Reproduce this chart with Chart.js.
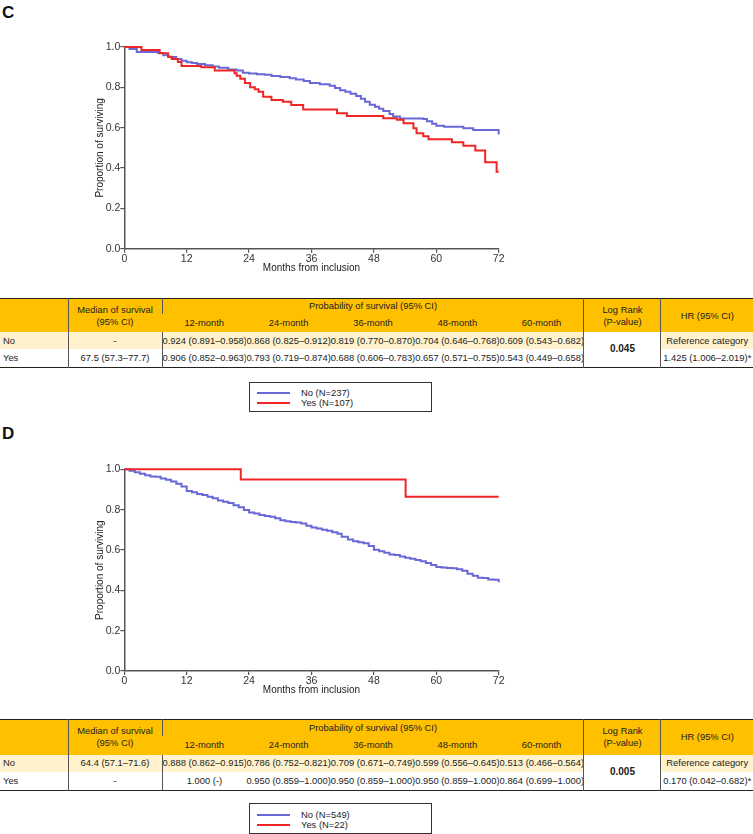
<!DOCTYPE html>
<html><head><meta charset="utf-8">
<script src="https://cdn.jsdelivr.net/npm/chart.js@4/dist/chart.umd.min.js"></script>
<style>
html,body{margin:0;padding:0;background:#fff;}
#page{position:relative;width:753px;height:834px;overflow:hidden;font-family:"Liberation Sans",Arial,sans-serif;}
.panel{position:absolute;left:2px;font-weight:bold;font-size:17px;color:#111;line-height:17px;}
canvas.cv{position:absolute;left:0;}
table.t{position:absolute;left:0;width:753px;border-collapse:collapse;table-layout:fixed;
  font-family:"Liberation Sans",Arial,sans-serif;font-size:9.4px;color:#222;
  border-top:1.5px solid #222;border-bottom:1.5px solid #222;}
table.t td{padding:0;line-height:12px;text-align:center;vertical-align:middle;white-space:nowrap;overflow:hidden;}
table.t tr.h td{background:#FFC000;}
table.t tr.no td{background:#FFF2CC;}
table.t tr.no td.lr{background:#fff;font-weight:bold;font-size:10px;}
table.t td.vl{border-left:1px solid #555;}
table.t td.lab{text-align:left;padding-left:3px;}
.legend{position:absolute;left:249px;width:181px;border:1px solid #333;background:#fff;
  font-family:"Liberation Sans",Arial,sans-serif;font-size:9.4px;color:#222;}
.legend .it{position:absolute;left:0;height:12px;line-height:12px;}
.legend .sw{position:absolute;left:7px;width:33px;top:5px;height:0;border-top:2px solid;}
.legend .tx{position:absolute;left:51px;top:0;white-space:nowrap;}
</style>
</head>
<body>
<div id="page">
  <div class="panel" style="top:4px;">C</div>
  <canvas id="chartC" class="cv" width="540" height="260" style="top:25px;"></canvas>
  <table class="t" id="tableC" style="top:298px;"></table>
  <div class="legend" id="legendC" style="top:382px;height:28px;"></div>

  <div class="panel" style="top:425px;">D</div>
  <canvas id="chartD" class="cv" width="540" height="260" style="top:447px;"></canvas>
  <table class="t" id="tableD" style="top:719px;"></table>
  <div class="legend" id="legendD" style="top:803px;height:29px;"></div>
</div>
<script>
// ---------- Data ----------
const xTickStep = 12;
const xMax = 72;
const seriesNames = ["No", "Yes"];

// Panel C – Kaplan–Meier steps (months, survival)
const cMonthsNo = [0, 1, 2.4, 6.5, 7.5, 8.5, 10, 11, 12, 13, 14, 15.5, 17, 18.2, 20, 21.6, 22.8, 24, 25.5, 27, 28.3, 30, 31.8, 33, 34.5, 35.7, 37.6, 39.5, 40.5, 41.5, 42.5, 43.5, 44.6, 45.5, 46.3, 47.2, 48.2, 49, 49.8, 51, 51.7, 53, 57.5, 58.2, 59.2, 60, 61.5, 65.2, 67.1, 72];
const cSurvNo   = [1.0, 0.99, 0.975, 0.97, 0.959, 0.95, 0.94, 0.932, 0.924, 0.921, 0.916, 0.91, 0.903, 0.897, 0.889, 0.883, 0.872, 0.868, 0.865, 0.862, 0.856, 0.851, 0.845, 0.839, 0.832, 0.822, 0.815, 0.808, 0.797, 0.786, 0.778, 0.768, 0.757, 0.743, 0.728, 0.714, 0.704, 0.694, 0.683, 0.668, 0.656, 0.646, 0.643, 0.632, 0.62, 0.609, 0.605, 0.597, 0.588, 0.566];
const cMonthsYes = [0, 3.3, 6.8, 8.4, 9.1, 10.3, 11, 14.8, 17.4, 21.2, 21.6, 22.3, 23.2, 24.2, 25.1, 25.8, 26.7, 28.3, 30.5, 32.1, 34.4, 40.9, 42.8, 49.8, 52.4, 53.7, 55.6, 56.2, 57.5, 58.5, 63, 65.2, 67.5, 69.4, 71.6, 72];
const cSurvYes   = [1.0, 0.985, 0.969, 0.952, 0.94, 0.926, 0.906, 0.9, 0.883, 0.87, 0.858, 0.842, 0.822, 0.8, 0.79, 0.778, 0.753, 0.737, 0.729, 0.712, 0.69, 0.671, 0.658, 0.647, 0.639, 0.622, 0.597, 0.572, 0.558, 0.543, 0.528, 0.51, 0.487, 0.428, 0.381, 0.381];

// Panel D
const dMonthsNo = [0, 1, 2, 3, 4, 5, 6, 7, 8, 9, 10, 11, 12, 13, 14, 15, 16, 17, 18, 19, 20, 21, 22, 23, 24, 25, 26, 27, 28, 29, 30, 31, 32, 33, 34, 35, 36, 37, 38, 39, 40, 41, 41.8, 43, 44, 45, 46, 47, 48, 49, 50, 51, 52, 53, 54, 55, 56, 57, 58, 59, 60, 61, 62, 63, 64, 65, 66, 67, 68, 69, 70, 71, 72];
const dSurvNo   = [1.0, 0.993, 0.985, 0.978, 0.97, 0.964, 0.963, 0.955, 0.948, 0.94, 0.928, 0.915, 0.893, 0.886, 0.878, 0.872, 0.864, 0.856, 0.845, 0.839, 0.833, 0.822, 0.812, 0.798, 0.786, 0.781, 0.774, 0.769, 0.765, 0.757, 0.748, 0.742, 0.739, 0.736, 0.731, 0.72, 0.711, 0.706, 0.7, 0.695, 0.688, 0.68, 0.665, 0.652, 0.643, 0.638, 0.633, 0.62, 0.601, 0.594, 0.586, 0.578, 0.575, 0.568, 0.561, 0.556, 0.55, 0.544, 0.536, 0.525, 0.515, 0.513, 0.511, 0.509, 0.505, 0.497, 0.482, 0.472, 0.462, 0.461, 0.454, 0.452, 0.44];
const dMonthsYes = [0, 22.4, 54.1, 72];
const dSurvYes   = [1.0, 0.95, 0.864, 0.864];

// Tables
const probHeaders = ["12-month", "24-month", "36-month", "48-month", "60-month"];
const cMedian = ["-", "67.5 (57.3\u201377.7)"];
const cProbNo  = ["0.924 (0.891\u20130.958)", "0.868 (0.825\u20130.912)", "0.819 (0.770\u20130.870)", "0.704 (0.646\u20130.768)", "0.609 (0.543\u20130.682)"];
const cProbYes = ["0.906 (0.852\u20130.963)", "0.793 (0.719\u20130.874)", "0.688 (0.606\u20130.783)", "0.657 (0.571\u20130.755)", "0.543 (0.449\u20130.658)"];
const cLogRank = "0.045";
const cHR = ["Reference category", "1.425 (1.006\u20132.019)*"];
const cLegend = ["No (N=237)", "Yes (N=107)"];

const dMedian = ["64.4 (57.1\u201371.6)", "-"];
const dProbNo  = ["0.888 (0.862\u20130.915)", "0.786 (0.752\u20130.821)", "0.709 (0.671\u20130.749)", "0.599 (0.556\u20130.645)", "0.513 (0.466\u20130.564)"];
const dProbYes = ["1.000 (-)", "0.950 (0.859\u20131.000)", "0.950 (0.859\u20131.000)", "0.950 (0.859\u20131.000)", "0.864 (0.699\u20131.000)"];
const dLogRank = "0.005";
const dHR = ["Reference category", "0.170 (0.042\u20130.682)*"];
const dLegend = ["No (N=549)", "Yes (N=22)"];

// ---------- Styling ----------
const BLUE = "rgb(104,104,214)";
const RED = "rgb(240,38,38)";
const FONT = '"Liberation Sans", Arial, sans-serif';

function kmChart(id, noX, noY, yesX, yesY, pad, xh) {
  const pts = (xs, ys) => xs.map((x, i) => ({x: x, y: ys[i]}));
  new Chart(document.getElementById(id), {
    type: "line",
    data: {datasets: [
      {label: seriesNames[1], data: pts(yesX, yesY), borderColor: RED, backgroundColor: RED, borderWidth: 2, stepped: "before", pointRadius: 0, fill: false, clip: false},
      {label: seriesNames[0], data: pts(noX, noY), borderColor: BLUE, backgroundColor: BLUE, borderWidth: 2, stepped: "before", pointRadius: 0, fill: false, clip: false}
    ]},
    options: {
      responsive: false, animation: false,
      layout: {padding: pad},
      plugins: {legend: {display: false}, tooltip: {enabled: false}},
      scales: {
        x: {type: "linear", min: 0, max: xMax,
            ticks: {stepSize: xTickStep, color: "#333", font: {size: 10.5, family: FONT}, padding: 0, maxRotation: 0, autoSkip: false},
            grid: {drawOnChartArea: false, drawTicks: true, tickLength: 4, color: "#555", lineWidth: 1.2},
            border: {color: "#555", width: 1.5},
            title: {display: true, text: "Months from inclusion", color: "#222", font: {size: 10, family: FONT}, padding: 0},
            afterFit: s => { s.height = xh; }},
        y: {min: 0, max: 1,
            ticks: {stepSize: 0.2, color: "#333", font: {size: 10.5, family: FONT}, padding: 0, callback: v => Number(v).toFixed(1)},
            grid: {drawOnChartArea: false, drawTicks: true, tickLength: 4, color: "#555", lineWidth: 1.2},
            border: {color: "#555", width: 1.5},
            title: {display: true, text: "Proportion of surviving", color: "#222", font: {size: 10, family: FONT}, padding: 0},
            afterFit: s => { s.width = 30.3; }}
      }
    }
  });
}

kmChart("chartC", cMonthsNo, cSurvNo, cMonthsYes, cSurvYes, {left: 94, right: 41.3, top: 22, bottom: 11}, 25.3);
kmChart("chartD", dMonthsNo, dSurvNo, dMonthsYes, dSurvYes, {left: 94, right: 41.3, top: 22.3, bottom: 10.3}, 25.7);

function buildTable(id, median, probNo, probYes, logRank, hr, heights) {
  const colW = [68, 94, 84.4, 84.4, 84.4, 84.4, 84.4, 77, 92];
  let h = "<colgroup>" + colW.map(w => `<col style="width:${w}px">`).join("") + "</colgroup>";
  h += `<tr class="h" style="height:${heights[0]}px"><td rowspan="2"></td><td rowspan="2" class="vl">Median of survival<br>(95% CI)</td><td colspan="5" class="vl">Probability of survival (95% CI)</td><td rowspan="2" class="vl">Log Rank<br>(P-value)</td><td rowspan="2" class="vl">HR (95% CI)</td></tr>`;
  h += `<tr class="h" style="height:${heights[1]}px">` + probHeaders.map(t => `<td>${t}</td>`).join("") + "</tr>";
  h += `<tr class="no" style="height:${heights[2]}px"><td class="lab">${seriesNames[0]}</td><td class="vl">${median[0]}</td>` +
       probNo.map((t, i) => `<td${i === 0 ? ' class="vl"' : ''}>${t}</td>`).join("") +
       `<td rowspan="2" class="vl lr">${logRank}</td><td class="vl">${hr[0]}</td></tr>`;
  h += `<tr style="height:${heights[3]}px"><td class="lab">${seriesNames[1]}</td><td class="vl">${median[1]}</td>` +
       probYes.map((t, i) => `<td${i === 0 ? ' class="vl"' : ''}>${t}</td>`).join("") +
       `<td class="vl">${hr[1]}</td></tr>`;
  document.getElementById(id).innerHTML = h;
}
buildTable("tableC", cMedian, cProbNo, cProbYes, cLogRank, cHR, [15, 18.5, 17, 18]);
buildTable("tableD", dMedian, dProbNo, dProbYes, dLogRank, dHR, [16, 19, 17.7, 18.3]);

function buildLegend(id, labels, tops) {
  const cols = [BLUE, RED];
  document.getElementById(id).innerHTML = labels.map((t, i) =>
    `<div class="it" style="top:${tops[i]}px;width:180px"><span class="sw" style="border-color:${cols[i]}"></span><span class="tx">${t}</span></div>`).join("");
}
buildLegend("legendC", cLegend, [4, 14]);
buildLegend("legendD", dLegend, [5, 15]);
</script>
</body></html>
